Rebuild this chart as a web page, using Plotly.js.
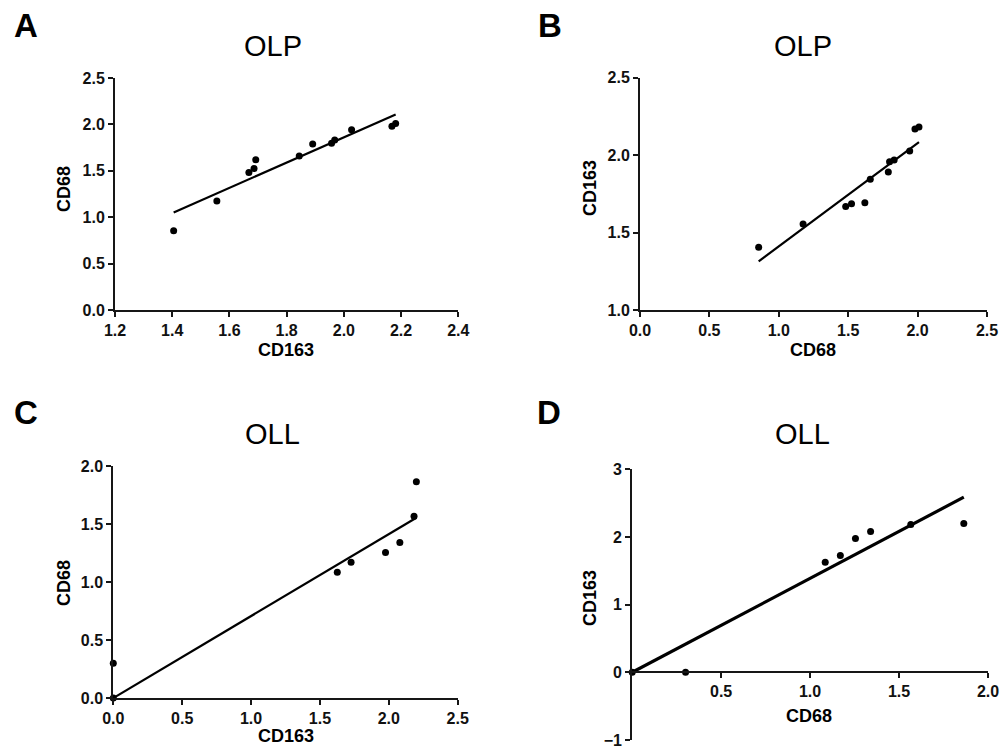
<!DOCTYPE html>
<html>
<head>
<meta charset="utf-8">
<script src="https://cdn.plot.ly/plotly-3.0.1.min.js"></script>
<style>
html,body{margin:0;padding:0;background:#fff;}
#chart{width:1005px;height:749px;}
.xtick text, .ytick text { font-weight: bold !important; }
</style>
</head>
<body>
<div id="chart"></div>
<script>
// ---- Data ----
// OLP group: paired CD163 / CD68 values
const cd163_olp = [1.405, 1.556, 1.668, 1.686, 1.692, 1.844, 1.891, 1.957, 1.968, 2.027, 2.168, 2.181];
const cd68_olp  = [0.855, 1.175, 1.482, 1.524, 1.620, 1.659, 1.789, 1.798, 1.831, 1.943, 1.981, 2.010];
// OLL group: paired CD163 / CD68 values
const cd163_oll = [0.000, 0.000, 1.626, 1.726, 1.976, 2.080, 2.183, 2.200];
const cd68_oll  = [0.300, 0.000, 1.085, 1.170, 1.255, 1.340, 1.566, 1.864];

const panelLetters = ['A', 'B', 'C', 'D'];
const panelTitles  = ['OLP', 'OLP', 'OLL', 'OLL'];
const ticksD_x = [0.5, 1.0, 1.5, 2.0];
const ticksD_xText = ['0.5', '1.0', '1.5', '2.0'];

// ---- Regression helpers ----
function linFit(x, y) {
  const n = x.length;
  const mx = x.reduce((a, b) => a + b, 0) / n;
  const my = y.reduce((a, b) => a + b, 0) / n;
  let sxy = 0, sxx = 0;
  for (let i = 0; i < n; i++) { sxy += (x[i] - mx) * (y[i] - my); sxx += (x[i] - mx) ** 2; }
  const m = sxy / sxx;
  return { m: m, b: my - m * mx };
}
function originFit(x, y) {
  let sxy = 0, sxx = 0;
  for (let i = 0; i < x.length; i++) { sxy += x[i] * y[i]; sxx += x[i] * x[i]; }
  return { m: sxy / sxx, b: 0 };
}
function fitLine(x, y, fit, xs) {
  return { x: xs, y: xs.map(v => fit.m * v + fit.b) };
}
const minOf = a => Math.min.apply(null, a);
const maxOf = a => Math.max.apply(null, a);

const fA = fitLine(cd163_olp, cd68_olp, linFit(cd163_olp, cd68_olp), [minOf(cd163_olp), maxOf(cd163_olp)]);
const fB = fitLine(cd68_olp, cd163_olp, linFit(cd68_olp, cd163_olp), [minOf(cd68_olp), maxOf(cd68_olp)]);
const fC = fitLine(cd163_oll, cd68_oll, originFit(cd163_oll, cd68_oll), [0, maxOf(cd163_oll)]);
const fD = fitLine(cd68_oll, cd163_oll, originFit(cd68_oll, cd163_oll), [0, maxOf(cd68_oll)]);

// ---- Layout helpers ----
const W = 1005, H = 749;
const fx = p => p / W;
const fy = p => 1 - p / H;
const FONT = 'Liberation Sans, Arial, Helvetica, sans-serif';
const INK = '#161616';

function axis(extra) {
  return Object.assign({
    showgrid: false, zeroline: false, showline: true, linewidth: 2, linecolor: INK,
    ticks: 'outside', ticklen: 5, tickwidth: 2, tickcolor: INK,
    tickfont: { family: FONT, size: 16, color: '#111', weight: 700 },
    fixedrange: true
  }, extra);
}

function scatter(x, y, xa, ya) {
  return { x: x, y: y, xaxis: xa, yaxis: ya, type: 'scatter', mode: 'markers',
    marker: { color: '#000', size: 7 }, cliponaxis: false, hoverinfo: 'x+y', showlegend: false };
}
function line(f, xa, ya, w) {
  return { x: f.x, y: f.y, xaxis: xa, yaxis: ya, type: 'scatter', mode: 'lines',
    line: { color: '#000', width: w }, cliponaxis: false, hoverinfo: 'skip', showlegend: false };
}

const data = [
  line(fA, 'x', 'y', 2.2),   scatter(cd163_olp, cd68_olp, 'x', 'y'),
  line(fB, 'x2', 'y2', 2.2), scatter(cd68_olp, cd163_olp, 'x2', 'y2'),
  line(fC, 'x3', 'y3', 2.2), scatter(cd163_oll, cd68_oll, 'x3', 'y3'),
  line(fD, 'x4', 'y4', 3.2), scatter(cd68_oll, cd163_oll, 'x4', 'y4')
];

function ann(text, x, y, size, bold, angle) {
  return { text: text, xref: 'paper', yref: 'paper', x: fx(x), y: fy(y),
    xanchor: 'center', yanchor: 'middle', showarrow: false, textangle: angle || 0,
    font: { family: FONT, size: size, color: '#000', weight: bold ? 700 : 400 } };
}

const layout = {
  width: W, height: H,
  margin: { l: 0, r: 0, t: 0, b: 0 },
  paper_bgcolor: '#fff', plot_bgcolor: '#fff',
  showlegend: false,
  xaxis:  axis({ domain: [fx(115), fx(458.3)], anchor: 'y', range: [1.2, 2.4], tick0: 1.2, dtick: 0.2, tickformat: '.1f' }),
  yaxis:  axis({ domain: [fy(310), fy(78)], anchor: 'x', range: [0, 2.5], tick0: 0, dtick: 0.5, tickformat: '.1f' }),
  xaxis2: axis({ domain: [fx(640), fx(987)], anchor: 'y2', range: [0, 2.5], tick0: 0, dtick: 0.5, tickformat: '.1f' }),
  yaxis2: axis({ domain: [fy(310), fy(77.7)], anchor: 'x2', range: [1.0, 2.5], tick0: 1, dtick: 0.5, tickformat: '.1f' }),
  xaxis3: axis({ domain: [fx(113.3), fx(457.7)], anchor: 'y3', range: [0, 2.5], tick0: 0, dtick: 0.5, tickformat: '.1f' }),
  yaxis3: axis({ domain: [fy(698), fy(466)], anchor: 'x3', range: [0, 2.0], tick0: 0, dtick: 0.5, tickformat: '.1f' }),
  xaxis4: axis({ domain: [fx(632.2), fx(988)], anchor: 'free', position: fy(672), range: [0, 2.0],
                 tickmode: 'array', tickvals: ticksD_x, ticktext: ticksD_xText }),
  yaxis4: axis({ domain: [fy(740), fy(469.3)], anchor: 'x4', range: [-1, 3], tick0: -1, dtick: 1, tickformat: 'd' }),
  annotations: [
    ann(panelLetters[0], 26, 26, 33, true), ann(panelLetters[1], 550, 26, 33, true),
    ann(panelLetters[2], 26, 413, 33, true), ann(panelLetters[3], 549, 413, 33, true),
    ann(panelTitles[0], 273, 46, 29, false), ann(panelTitles[1], 803, 46, 29, false),
    ann(panelTitles[2], 272, 434, 29, false), ann(panelTitles[3], 802, 434, 29, false),
    ann('CD68', 64, 189, 18, true, -90),  ann('CD163', 286, 350, 18, true),
    ann('CD163', 590, 188, 18, true, -90), ann('CD68', 813, 350, 18, true),
    ann('CD68', 64, 583, 18, true, -90),  ann('CD163', 286, 736, 18, true),
    ann('CD163', 590, 598, 18, true, -90), ann('CD68', 809, 716, 18, true)
  ]
};

Plotly.newPlot('chart', data, layout, { displayModeBar: false, staticPlot: true });
</script>
</body>
</html>
